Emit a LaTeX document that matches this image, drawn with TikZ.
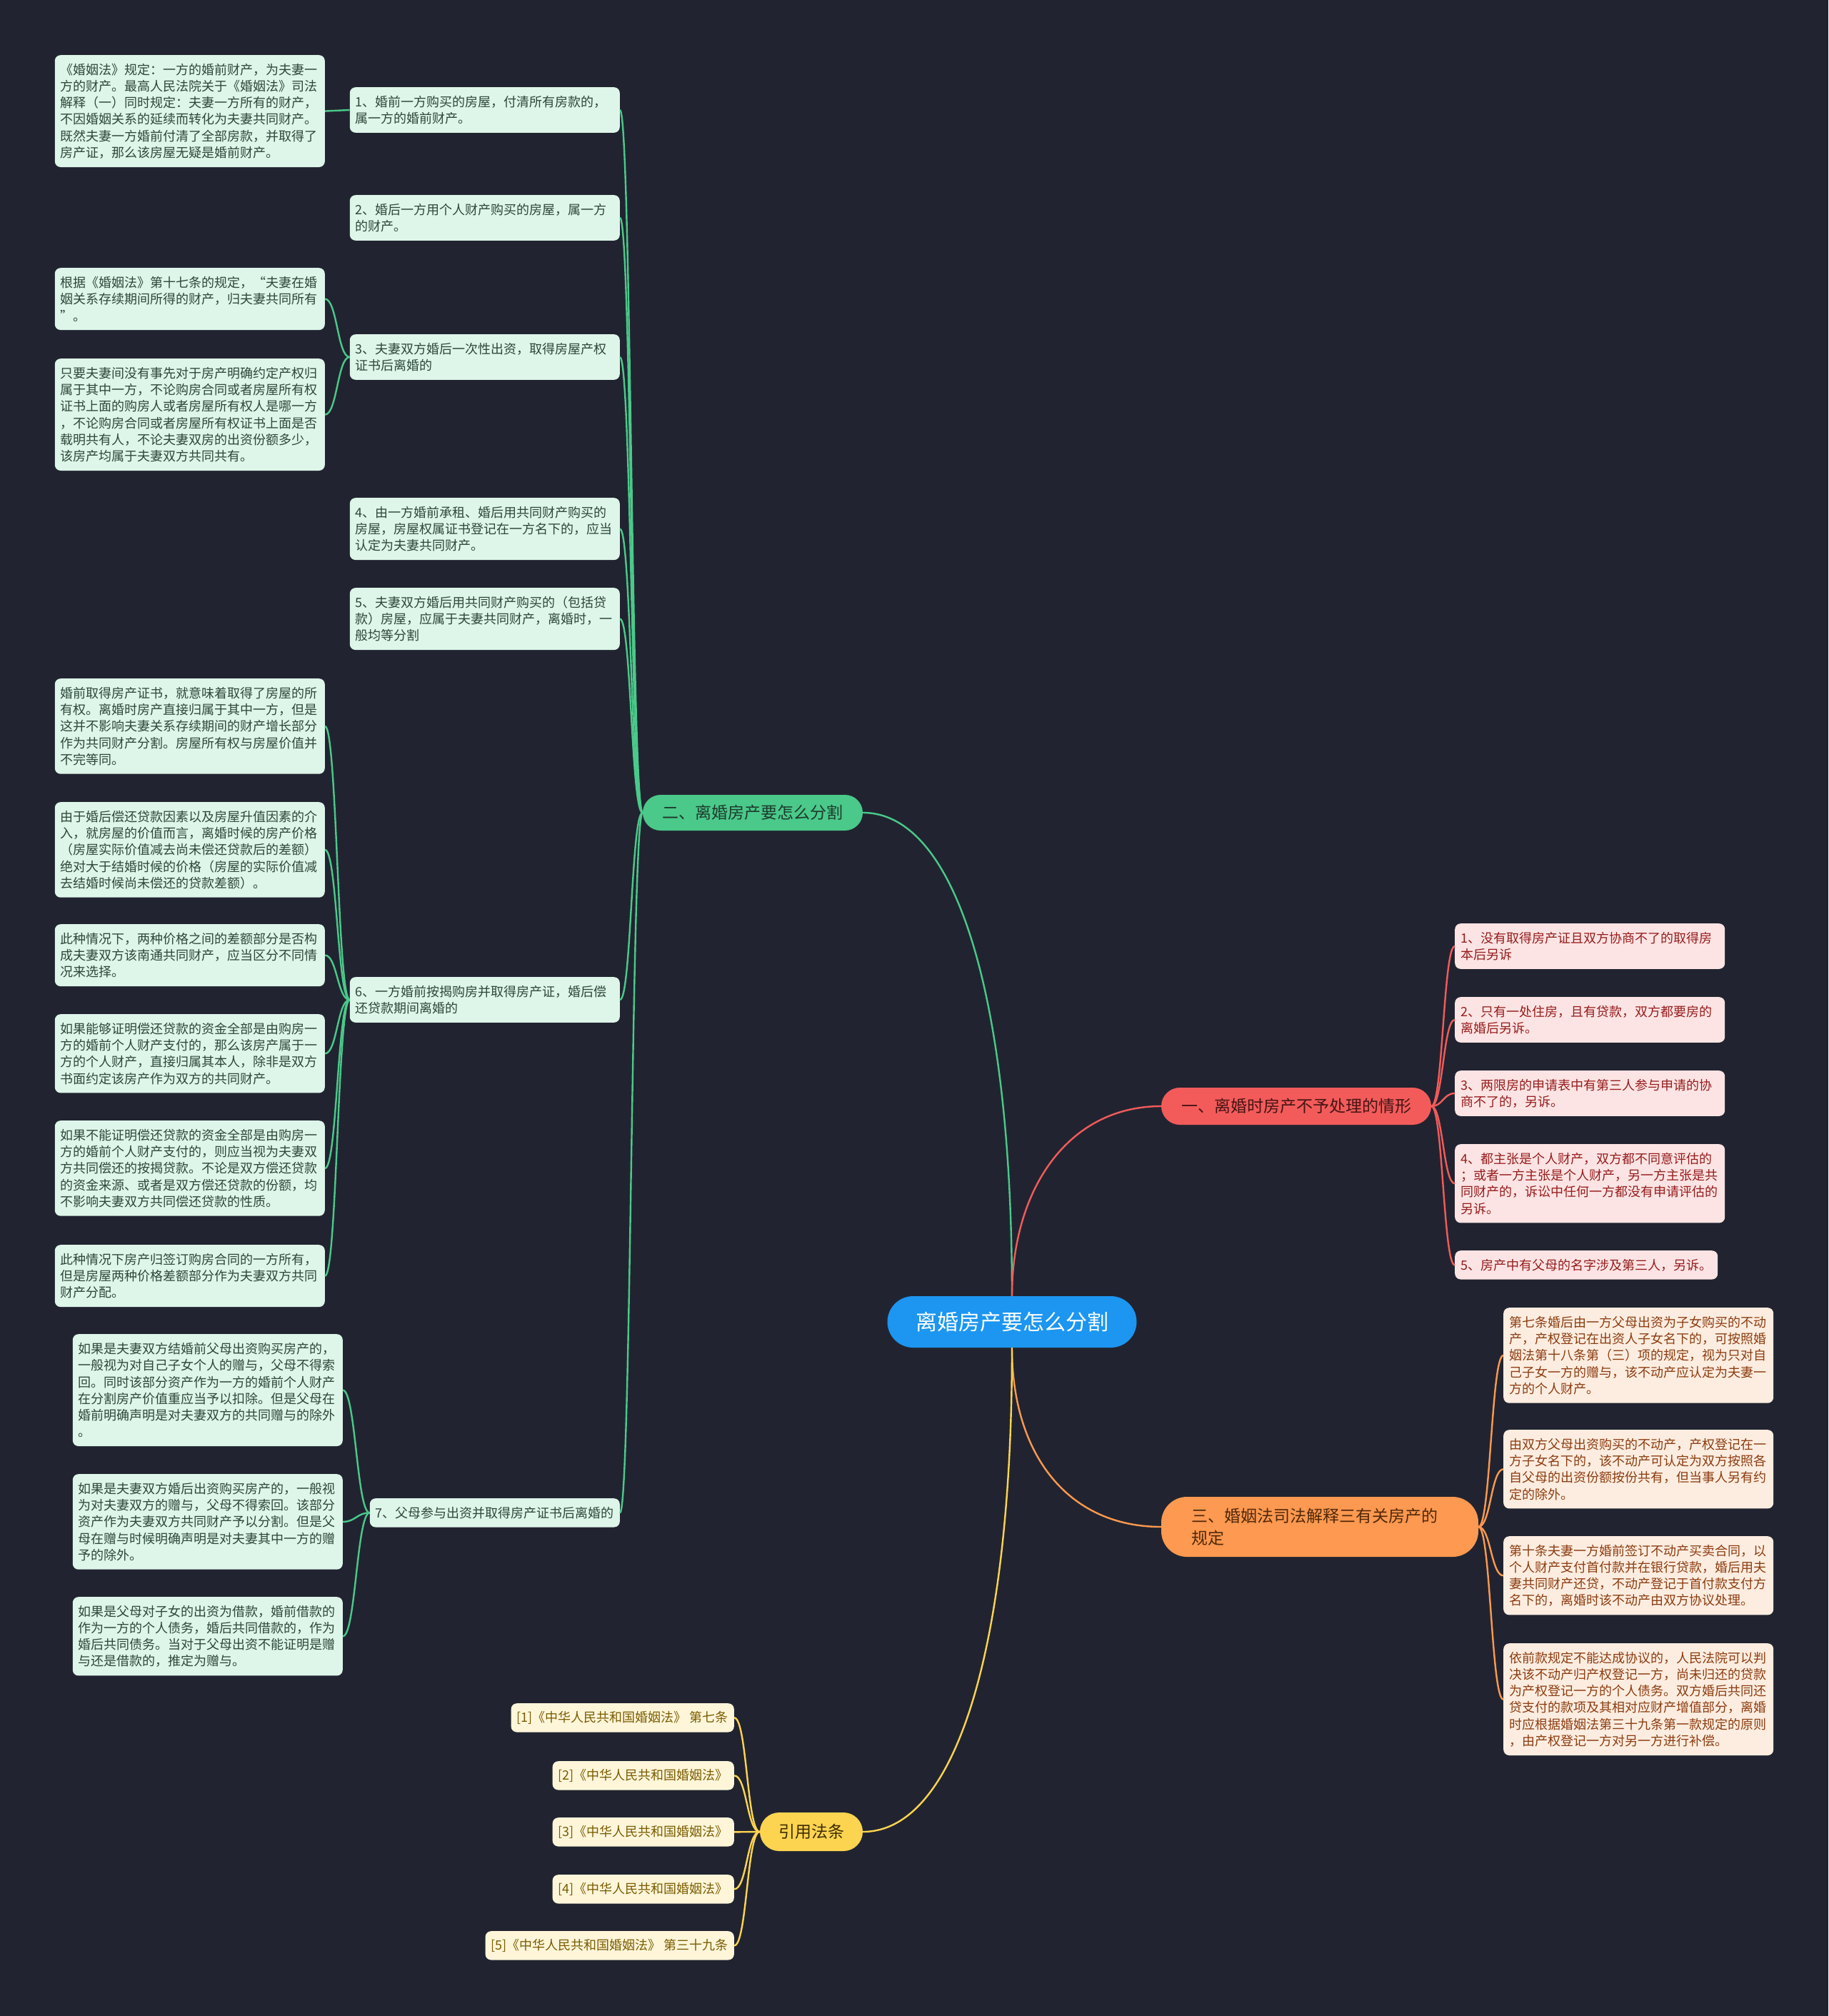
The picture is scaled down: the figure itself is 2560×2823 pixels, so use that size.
\documentclass[tikz,border=0pt]{standalone}
\usepackage{fontspec}
\newfontfamily\cjk{Noto Sans CJK SC}
\definecolor{bgdark}{RGB}{33,36,48}
\definecolor{rootblue}{RGB}{28,150,240}
\definecolor{gmain}{RGB}{74,201,138}
\definecolor{gpale}{RGB}{222,245,233}
\definecolor{gink}{RGB}{44,72,58}
\definecolor{gdeep}{RGB}{30,58,44}
\definecolor{rmain}{RGB}{243,91,91}
\definecolor{rpale}{RGB}{253,228,228}
\definecolor{rink}{RGB}{150,28,28}
\definecolor{rdeep}{RGB}{70,20,20}
\definecolor{omain}{RGB}{253,153,80}
\definecolor{opale}{RGB}{253,237,224}
\definecolor{oink}{RGB}{140,60,16}
\definecolor{odeep}{RGB}{80,40,10}
\definecolor{ymain}{RGB}{253,212,80}
\definecolor{ypale}{RGB}{255,246,218}
\definecolor{yink}{RGB}{122,92,0}
\definecolor{ydeep}{RGB}{60,45,0}

\begin{document}
\begin{tikzpicture}[x=1pt, y=-1pt,
  card/.style={font=\cjk\fontsize{18}{23.3}\selectfont, align=left,
               inner xsep=8pt, inner ysep=3pt, rounded corners=8pt},
  nl/.code={\pgfmathsetmacro\cardh{17+23.3*#1}\pgfkeysalso{minimum height=\cardh pt}},
  wide/.style={text width=362pt},
  gcard/.style={card, fill=gpale, text=gink, anchor=north east},
  rcard/.style={card, fill=rpale, text=rink, anchor=north west},
  ocard/.style={card, fill=opale, text=oink, anchor=north west, wide},
  ycard/.style={card, fill=ypale, text=yink, anchor=north east, nl=1},
  topic/.style={font=\cjk\fontsize{23}{31}\selectfont, inner sep=0pt, align=center},
  link/.style={line width=2.4pt},
]
\fill[bgdark] (0,0) rectangle (2560,2823);
\useasboundingbox (0,0) rectangle (2560,2823);

% centre and main topics
\node[topic, fill=rootblue, text=white, minimum width=349pt, minimum height=72pt,
      rounded corners=36pt, font=\cjk\fontsize{30}{36}\selectfont] (root) at (1417,1851) {离婚房产要怎么分割};
\node[topic, fill=gmain, text=gdeep, minimum width=308pt, minimum height=50pt,
      rounded corners=25pt] (g0) at (1054,1138) {二、离婚房产要怎么分割};
\node[topic, fill=rmain, text=rdeep, minimum width=378pt, minimum height=52pt,
      rounded corners=26pt] (r0) at (1815,1549) {一、离婚时房产不予处理的情形};
\node[topic, fill=omain, text=odeep, minimum width=444pt, minimum height=84pt,
      rounded corners=36pt, text width=360pt, align=left] (o0) at (1848,2138) {三、婚姻法司法解释三有关房产的\\规定};
\node[topic, fill=ymain, text=ydeep, minimum width=144pt, minimum height=54pt,
      rounded corners=27pt] (y0) at (1136,2565) {引用法条};

% green side
\node[gcard, wide, nl=2] (g1) at (868,122) {1、婚前一方购买的房屋，付清所有房款的，\\属一方的婚前财产。};
\node[gcard, wide, nl=2] (g2) at (868,273) {2、婚后一方用个人财产购买的房屋，属一方\\的财产。};
\node[gcard, wide, nl=2] (g3) at (868,468) {3、夫妻双方婚后一次性出资，取得房屋产权\\证书后离婚的};
\node[gcard, wide, nl=3] (g4) at (868,697) {4、由一方婚前承租、婚后用共同财产购买的\\房屋，房屋权属证书登记在一方名下的，应当\\认定为夫妻共同财产。};
\node[gcard, wide, nl=3] (g5) at (868,823) {5、夫妻双方婚后用共同财产购买的（包括贷\\款）房屋，应属于夫妻共同财产，离婚时，一\\般均等分割};
\node[gcard, wide, nl=2] (g6) at (868,1368) {6、一方婚前按揭购房并取得房产证，婚后偿\\还贷款期间离婚的};
\node[gcard, nl=1] (g7) at (868,2098) {7、父母参与出资并取得房产证书后离婚的};

\node[gcard, wide, nl=6] (a1) at (455,77) {《婚姻法》规定：一方的婚前财产，为夫妻一\\方的财产。最高人民法院关于《婚姻法》司法\\解释（一）同时规定：夫妻一方所有的财产，\\不因婚姻关系的延续而转化为夫妻共同财产。\\既然夫妻一方婚前付清了全部房款，并取得了\\房产证，那么该房屋无疑是婚前财产。};
\node[gcard, wide, nl=3] (c1) at (455,375) {根据《婚姻法》第十七条的规定，“夫妻在婚\\姻关系存续期间所得的财产，归夫妻共同所有\\”。};
\node[gcard, wide, nl=6] (c2) at (455,502) {只要夫妻间没有事先对于房产明确约定产权归\\属于其中一方，不论购房合同或者房屋所有权\\证书上面的购房人或者房屋所有权人是哪一方\\，不论购房合同或者房屋所有权证书上面是否\\载明共有人，不论夫妻双房的出资份额多少，\\该房产均属于夫妻双方共同共有。};
\node[gcard, wide, nl=5] (f1) at (455,950) {婚前取得房产证书，就意味着取得了房屋的所\\有权。离婚时房产直接归属于其中一方，但是\\这并不影响夫妻关系存续期间的财产增长部分\\作为共同财产分割。房屋所有权与房屋价值并\\不完等同。};
\node[gcard, wide, nl=5] (f2) at (455,1123) {由于婚后偿还贷款因素以及房屋升值因素的介\\入，就房屋的价值而言，离婚时候的房产价格\\（房屋实际价值减去尚未偿还贷款后的差额）\\绝对大于结婚时候的价格（房屋的实际价值减\\去结婚时候尚未偿还的贷款差额）。};
\node[gcard, wide, nl=3] (f3) at (455,1294) {此种情况下，两种价格之间的差额部分是否构\\成夫妻双方该南通共同财产，应当区分不同情\\况来选择。};
\node[gcard, wide, nl=4] (f4) at (455,1420) {如果能够证明偿还贷款的资金全部是由购房一\\方的婚前个人财产支付的，那么该房产属于一\\方的个人财产，直接归属其本人，除非是双方\\书面约定该房产作为双方的共同财产。};
\node[gcard, wide, nl=5] (f5) at (455,1569) {如果不能证明偿还贷款的资金全部是由购房一\\方的婚前个人财产支付的，则应当视为夫妻双\\方共同偿还的按揭贷款。不论是双方偿还贷款\\的资金来源、或者是双方偿还贷款的份额，均\\不影响夫妻双方共同偿还贷款的性质。};
\node[gcard, wide, nl=3] (f6) at (455,1743) {此种情况下房产归签订购房合同的一方所有，\\但是房屋两种价格差额部分作为夫妻双方共同\\财产分配。};
\node[gcard, wide, nl=6] (h1) at (480,1868) {如果是夫妻双方结婚前父母出资购买房产的，\\一般视为对自己子女个人的赠与，父母不得索\\回。同时该部分资产作为一方的婚前个人财产\\在分割房产价值重应当予以扣除。但是父母在\\婚前明确声明是对夫妻双方的共同赠与的除外\\。};
\node[gcard, wide, nl=5] (h2) at (480,2064) {如果是夫妻双方婚后出资购买房产的，一般视\\为对夫妻双方的赠与，父母不得索回。该部分\\资产作为夫妻双方共同财产予以分割。但是父\\母在赠与时候明确声明是对夫妻其中一方的赠\\予的除外。};
\node[gcard, wide, nl=4] (h3) at (480,2236) {如果是父母对子女的出资为借款，婚前借款的\\作为一方的个人债务，婚后共同借款的，作为\\婚后共同债务。当对于父母出资不能证明是赠\\与还是借款的，推定为赠与。};

% red side
\node[rcard, wide, nl=2] (r1) at (2037,1293) {1、没有取得房产证且双方协商不了的取得房\\本后另诉};
\node[rcard, wide, nl=2] (r2) at (2037,1396) {2、只有一处住房，且有贷款，双方都要房的\\离婚后另诉。};
\node[rcard, wide, nl=2] (r3) at (2037,1499) {3、两限房的申请表中有第三人参与申请的协\\商不了的，另诉。};
\node[rcard, wide, nl=4] (r4) at (2037,1602) {4、都主张是个人财产，双方都不同意评估的\\；或者一方主张是个人财产，另一方主张是共\\同财产的，诉讼中任何一方都没有申请评估的\\另诉。};
\node[rcard, nl=1] (r5) at (2037,1751) {5、房产中有父母的名字涉及第三人，另诉。};

% orange side
\node[ocard, nl=5] (o1) at (2105,1831) {第七条婚后由一方父母出资为子女购买的不动\\产，产权登记在出资人子女名下的，可按照婚\\姻法第十八条第（三）项的规定，视为只对自\\己子女一方的赠与，该不动产应认定为夫妻一\\方的个人财产。};
\node[ocard, nl=4] (o2) at (2105,2002) {由双方父母出资购买的不动产，产权登记在一\\方子女名下的，该不动产可认定为双方按照各\\自父母的出资份额按份共有，但当事人另有约\\定的除外。};
\node[ocard, nl=4] (o3) at (2105,2151) {第十条夫妻一方婚前签订不动产买卖合同，以\\个人财产支付首付款并在银行贷款，婚后用夫\\妻共同财产还贷，不动产登记于首付款支付方\\名下的，离婚时该不动产由双方协议处理。};
\node[ocard, nl=6] (o4) at (2105,2301) {依前款规定不能达成协议的，人民法院可以判\\决该不动产归产权登记一方，尚未归还的贷款\\为产权登记一方的个人债务。双方婚后共同还\\贷支付的款项及其相对应财产增值部分，离婚\\时应根据婚姻法第三十九条第一款规定的原则\\，由产权登记一方对另一方进行补偿。};

% citations
\node[ycard] (y1) at (1028,2385) {[1]《中华人民共和国婚姻法》 第七条};
\node[ycard] (y2) at (1028,2466) {[2]《中华人民共和国婚姻法》};
\node[ycard] (y3) at (1028,2545) {[3]《中华人民共和国婚姻法》};
\node[ycard] (y4) at (1028,2625) {[4]《中华人民共和国婚姻法》};
\node[ycard] (y5) at (1028,2704) {[5]《中华人民共和国婚姻法》 第三十九条};

% trunk curves
\draw[link, gmain] (g0.east) .. controls +(130,0) and +(0,-420) .. (root.north);
\draw[link, rmain] (root.north) .. controls +(0,-150) and +(-130,0) .. (r0.west);
\draw[link, omain] (root.south) .. controls +(0,150) and +(-130,0) .. (o0.west);
\draw[link, ymain] (root.south) .. controls +(0,420) and +(130,0) .. (y0.east);

% branch links
\foreach \kid in {g1,g2,g3,g4,g5,g6,g7}
  \draw[link, gmain] (g0.west) .. controls +(-16,0) and +(16,0) .. (\kid.east);
\draw[link, gmain] (g1.west) .. controls +(-17,0) and +(17,0) .. (a1.east);
\foreach \kid in {c1,c2}
  \draw[link, gmain] (g3.west) .. controls +(-17,0) and +(17,0) .. (\kid.east);
\foreach \kid in {f1,f2,f3,f4,f5,f6}
  \draw[link, gmain] (g6.west) .. controls +(-17,0) and +(17,0) .. (\kid.east);
\foreach \kid in {h1,h2,h3}
  \draw[link, gmain] (g7.west) .. controls +(-18,0) and +(18,0) .. (\kid.east);
\foreach \kid in {r1,r2,r3,r4,r5}
  \draw[link, rmain] (r0.east) .. controls +(16,0) and +(-16,0) .. (\kid.west);
\foreach \kid in {o1,o2,o3,o4}
  \draw[link, omain] (o0.east) .. controls +(17,0) and +(-17,0) .. (\kid.west);
\foreach \kid in {y1,y2,y3,y4,y5}
  \draw[link, ymain] (y0.west) .. controls +(-18,0) and +(18,0) .. (\kid.east);
\end{tikzpicture}
\end{document}
